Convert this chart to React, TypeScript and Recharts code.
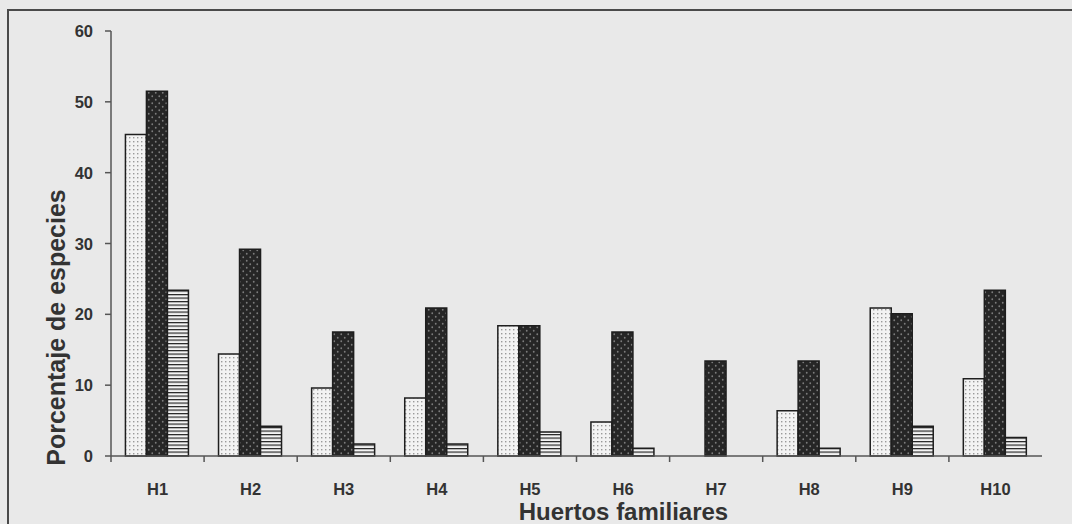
import React from 'react';
import { BarChart, Bar, XAxis, YAxis } from 'recharts';

const categories = ['H1', 'H2', 'H3', 'H4', 'H5', 'H6', 'H7', 'H8', 'H9', 'H10'];
const seriesLight = [45.4, 14.4, 9.6, 8.2, 18.4, 4.8, 0, 6.4, 20.9, 10.9];
const seriesDark = [51.5, 29.2, 17.5, 20.9, 18.4, 17.5, 13.4, 13.4, 20.1, 23.4];
const seriesStripe = [23.4, 4.2, 1.7, 1.7, 3.4, 1.1, 0, 1.1, 4.2, 2.6];
const yTicks = [0, 10, 20, 30, 40, 50, 60];

const data = categories.map((c, i) => ({
  name: c,
  a: seriesLight[i],
  b: seriesDark[i],
  c: seriesStripe[i],
}));

const TEXT = '#333';
const AXIS = '#555';
const FONT = '"Liberation Sans", Arial, sans-serif';

const XTick = (props: any) => {
  const { x, y, payload, width, visibleTicksCount } = props;
  const band = width / visibleTicksCount;
  const lx = x - band / 2;
  return (
    <g>
      <line x1={lx} y1={y} x2={lx} y2={y + 6} stroke={AXIS} strokeWidth={1.5} />
      <text
        x={x}
        y={y + 39}
        textAnchor="middle"
        fill={TEXT}
        fontFamily={FONT}
        fontWeight="bold"
        fontSize={16.5}
      >
        {payload.value}
      </text>
    </g>
  );
};

const YTick = (props: any) => {
  const { x, y, payload } = props;
  return (
    <text
      x={x}
      y={y + 6}
      textAnchor="end"
      fill={TEXT}
      fontFamily={FONT}
      fontWeight="bold"
      fontSize={16.5}
    >
      {payload.value}
    </text>
  );
};

const YLabel = (props: any) => {
  const vb = props.viewBox;
  const cx = vb.x + 65;
  const cy = vb.y + vb.height / 2 + 84;
  return (
    <text
      x={cx}
      y={cy}
      transform={`rotate(-90 ${cx} ${cy})`}
      textAnchor="middle"
      fill={TEXT}
      fontFamily={FONT}
      fontWeight="bold"
      fontSize={25}
    >
      Porcentaje de especies
    </text>
  );
};

const XLabel = (props: any) => {
  const vb = props.viewBox;
  const cx = vb.x + vb.width / 2 + 47;
  return (
    <text
      x={cx}
      y={vb.y + 64}
      textAnchor="middle"
      fill={TEXT}
      fontFamily={FONT}
      fontWeight="bold"
      fontSize={24}
    >
      Huertos familiares
    </text>
  );
};

export default function App() {
  return (
    <div
      style={{
        position: 'absolute',
        left: 0,
        top: 0,
        width: 1072,
        height: 524,
        background: '#e9e9e9',
        overflow: 'hidden',
      }}
    >
      <div
        style={{
          position: 'absolute',
          left: 7,
          top: 9,
          width: 1100,
          height: 600,
          borderTop: '2px solid #4a4a4a',
          borderLeft: '2px solid #4a4a4a',
        }}
      />
      <div style={{ position: 'absolute', left: 0, top: 0 }}>
        <BarChart
          width={1072}
          height={524}
          data={data}
          margin={{ top: 31, right: 30, bottom: 38, left: 0 }}
          barCategoryGap="15.5%"
          barGap={0}
        >
          <defs>
            <pattern id="pLight" width="4" height="4" patternUnits="userSpaceOnUse">
              <rect width="4" height="4" fill="#f3f3f3" />
              <rect x="1" y="1" width="1.4" height="1.4" fill="#9a9a9a" />
            </pattern>
            <pattern id="pDark" width="7" height="7" patternUnits="userSpaceOnUse">
              <rect width="7" height="7" fill="#262626" />
              <circle cx="1.75" cy="1.75" r="0.9" fill="#7c7c7c" />
              <circle cx="5.25" cy="5.25" r="0.9" fill="#7c7c7c" />
            </pattern>
            <pattern id="pStripe" width="4" height="3.5" patternUnits="userSpaceOnUse">
              <rect width="4" height="3.5" fill="#f4f4f4" />
              <rect y="0" width="4" height="1.2" fill="#222" />
            </pattern>
          </defs>
          <XAxis
            dataKey="name"
            height={30}
            tickLine={false}
            tickSize={0}
            tickMargin={0}
            axisLine={{ stroke: AXIS, strokeWidth: 1.5 }}
            tick={<XTick />}
            interval={0}
            label={<XLabel />}
          />
          <YAxis
            width={111}
            domain={[0, 60]}
            ticks={yTicks}
            interval={0}
            tickSize={6}
            tickMargin={12}
            tickLine={{ stroke: AXIS, strokeWidth: 1.5 }}
            axisLine={{ stroke: AXIS, strokeWidth: 1.5 }}
            tick={<YTick />}
            label={<YLabel />}
          />
          <Bar dataKey="a" fill="url(#pLight)" stroke="#1e1e1e" strokeWidth={1.5} isAnimationActive={false} />
          <Bar dataKey="b" fill="url(#pDark)" stroke="#1e1e1e" strokeWidth={1.5} isAnimationActive={false} />
          <Bar dataKey="c" fill="url(#pStripe)" stroke="#1e1e1e" strokeWidth={1.5} isAnimationActive={false} />
        </BarChart>
      </div>
    </div>
  );
}
